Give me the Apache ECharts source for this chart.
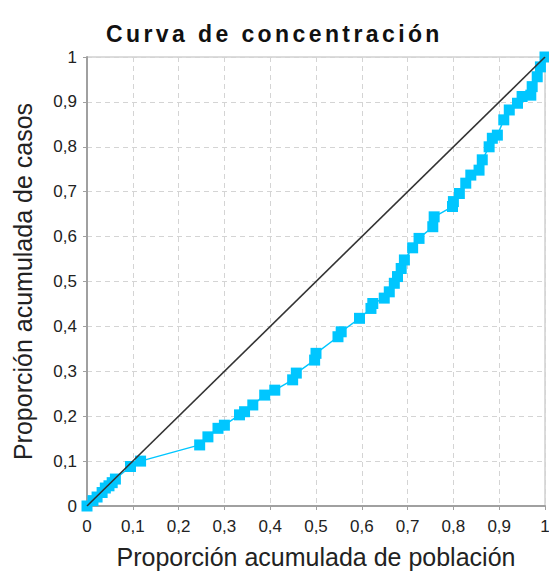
<!DOCTYPE html>
<html>
<head>
<meta charset="utf-8">
<script src="https://cdn.jsdelivr.net/npm/echarts@6/dist/echarts.min.js"></script>
<style>
  html, body { margin: 0; padding: 0; background: #fff; }
  #chart { width: 549px; height: 571px; }
</style>
</head>
<body>
<div id="chart"></div>
<script>
// Cumulative share of population (x) vs cumulative share of cases (y)
const popShare = [0, 0.013, 0.022, 0.033, 0.04, 0.048, 0.055, 0.062, 0.095, 0.117,
  0.246, 0.264, 0.286, 0.30, 0.333, 0.344, 0.362, 0.388, 0.41, 0.449, 0.457, 0.497, 0.50,
  0.548, 0.555, 0.595, 0.62, 0.624, 0.649, 0.66, 0.671, 0.678, 0.686, 0.693, 0.711, 0.725,
  0.755, 0.758, 0.798, 0.80, 0.813, 0.827, 0.838, 0.856, 0.863, 0.878, 0.885, 0.896, 0.91,
  0.922, 0.94, 0.95, 0.969, 0.972, 0.983, 0.99, 1];
const caseShare = [0, 0.012, 0.02, 0.03, 0.04, 0.045, 0.052, 0.06, 0.088, 0.10,
  0.136, 0.154, 0.173, 0.18, 0.203, 0.21, 0.225, 0.247, 0.258, 0.281, 0.296, 0.325, 0.34,
  0.377, 0.388, 0.418, 0.44, 0.451, 0.463, 0.477, 0.496, 0.511, 0.529, 0.548, 0.575, 0.596,
  0.622, 0.644, 0.667, 0.678, 0.696, 0.719, 0.737, 0.748, 0.771, 0.80, 0.819, 0.826, 0.86,
  0.882, 0.897, 0.912, 0.915, 0.934, 0.956, 0.978, 1];
// Line of perfect equality
const equality = [[0, 0], [1, 1]];

const TITLE = 'Curva de concentración';
const curve = popShare.map((x, i) => [x, caseShare[i]]);
const fmt = v => (Math.round(v * 10) / 10).toString().replace('.', ',');
const font = 'Liberation Sans';

const axisCommon = {
  type: 'value', min: 0, max: 1, interval: 0.1,
  nameLocation: 'middle',
  nameTextStyle: { fontFamily: font, fontSize: 25, color: '#222' },
  axisLine: { show: true, lineStyle: { color: '#a0a0a0', width: 2 } },
  axisTick: { show: true, length: 4, lineStyle: { color: '#a0a0a0' } },
  axisLabel: { formatter: fmt, fontFamily: font, fontSize: 17, color: '#222' },
  splitLine: { show: true, lineStyle: { color: '#d4d4d4', type: [5, 4], width: 1 } }
};

const chart = echarts.init(document.getElementById('chart'), null, { renderer: 'svg' });
chart.setOption({
  animation: false,
  backgroundColor: '#fff',
  title: {
    text: TITLE,
    left: 101, top: 17,
    textStyle: { fontFamily: font, fontWeight: 'bold', fontSize: 23, color: '#111' }
  },
  grid: {
    left: 87, right: 4, top: 57, bottom: 65,
    outerBoundsMode: 'none', containLabel: false,
    show: true, borderColor: '#b8b8b8', borderWidth: 1
  },
  xAxis: Object.assign({}, axisCommon, {
    name: 'Proporción acumulada de población', nameGap: 38,
    axisLabel: Object.assign({}, axisCommon.axisLabel, { margin: 12 })
  }),
  yAxis: Object.assign({}, axisCommon, {
    name: 'Proporción acumulada de casos', nameGap: 52,
    axisLabel: Object.assign({}, axisCommon.axisLabel, { margin: 10 })
  }),
  series: [
    {
      type: 'line', data: curve, symbol: 'rect', symbolSize: 11,
      itemStyle: { color: '#00c6ff' },
      lineStyle: { color: '#00c6ff', width: 1.4 },
      z: 2
    },
    {
      type: 'line', data: equality, symbol: 'none',
      lineStyle: { color: '#333', width: 1.6 },
      z: 3
    }
  ]
});

// Widen the title's letter spacing
document.querySelectorAll('#chart text').forEach(t => {
  if (t.textContent === TITLE) t.setAttribute('letter-spacing', '3.4px');
});
</script>
</body>
</html>
